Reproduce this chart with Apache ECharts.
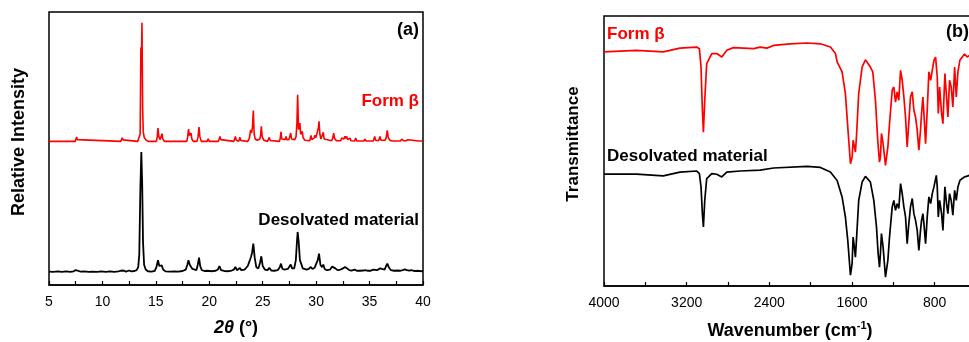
<!DOCTYPE html>
<html>
<head>
<meta charset="utf-8">
<script src="https://cdn.jsdelivr.net/npm/echarts@6/dist/echarts.min.js"></script>
<style>
  html, body { margin: 0; padding: 0; background: #fff; }
  #c { width: 969px; height: 342px; }
</style>
</head>
<body>
<div id="c"></div>
<script>
// ---- (a) powder XRD patterns: [2θ (°), relative intensity] ----
const xrdFormBeta = [
  [5.0,0],[7.45,0],[7.52,1.5],[7.59,3.7],[7.66,1.5],[7.75,0],
  [11.72,0],[11.8,1.3],[11.86,3.1],[11.93,1.3],[12.0,0],
  [13.3,0],[13.45,1.5],[13.53,6],[13.6,79],[13.64,60],[13.7,100],[13.76,30],[13.82,8],[13.92,3],[14.1,1],[14.3,0],
  [15.05,0],[15.13,4],[15.2,11.2],[15.28,4],[15.4,1.5],[15.5,3],[15.58,6.5],[15.65,2],[15.8,0],
  [17.9,0],[17.98,4],[18.06,10.4],[18.14,5],[18.22,5],[18.29,7],[18.37,2],[18.5,0],
  [18.85,0],[18.95,4],[19.04,12],[19.12,4],[19.25,0],
  [19.8,0],[19.9,2.2],[20.0,0],
  [20.85,0],[20.93,1.5],[21.0,4.2],[21.08,1.5],[21.2,0],
  [22.3,0],[22.37,1.5],[22.44,4.2],[22.52,1.2],[22.75,0],[22.8,1.2],[22.87,3.4],[22.95,0.8],
  [23.6,0],[23.75,2.5],[23.87,9.8],[23.95,7],[24.04,12],[24.12,26],[24.2,6],[24.3,2],[24.5,1],
  [24.73,2],[24.8,5],[24.87,12.6],[24.95,4],[25.1,1],[25.45,0],[25.55,1.2],[25.62,3.4],[25.7,0.8],[25.85,0],
  [26.55,0],[26.63,2],[26.71,8.1],[26.79,2],[26.95,0.5],[27.1,1.5],[27.18,4.2],[27.26,1.5],
  [27.45,1.5],[27.55,3],[27.62,7],[27.7,2],[28.0,1.5],[28.12,4],[28.2,15],[28.27,39.3],[28.35,10],
  [28.42,12],[28.48,15.4],[28.55,6],[28.63,6],[28.7,8.4],[28.78,3],[28.95,1],[29.1,0.5],
  [29.4,0.5],[29.47,2],[29.52,5],[29.6,1.5],[29.75,1.5],[29.82,3],[29.89,5.3],[29.96,3],[30.05,5.6],
  [30.14,6],[30.22,12],[30.27,16.9],[30.35,6],[30.45,2],[30.6,3],[30.67,7.6],[30.75,2],[30.9,0.5],
  [31.45,0.5],[31.55,2.5],[31.64,7],[31.73,2.5],[31.9,0.5],
  [32.3,0.5],[32.39,2.8],[32.48,1.5],[32.6,2],[32.7,4.2],[32.78,2.5],[32.86,4.2],[32.95,1.5],
  [33.08,1],[33.17,2.8],[33.26,0.5],[33.6,0.3],[33.7,2.8],[33.8,0.3],
  [34.48,0.3],[34.57,2],[34.66,0.3],
  [35.35,0.3],[35.42,1.5],[35.48,4.2],[35.56,1],[35.85,0.5],[35.92,1.5],[35.98,4.2],[36.06,1],
  [36.45,1],[36.55,3],[36.66,9.3],[36.75,3],[36.9,1],[37.1,0.3],
  [37.9,0.3],[38.0,2],[38.1,0.5],[38.2,0.5],[38.3,2],[38.4,0.5],[38.5,0.5],[38.6,1.4],[38.7,0.3],
  [39.6,0.3],[39.7,1.4],[39.8,0.3],[40.0,0.3]
];

const xrdDesolvated = [
  [5.0,0.3],[5.4,0],[5.8,0.5],[6.2,0],[6.6,0.4],[7.0,0.1],[7.3,0.5],[7.5,1.6],[7.6,2],[7.75,1],
  [7.95,0.2],[8.3,0.4],[8.7,0],[9.1,0.3],[9.5,0],[9.9,0.4],[10.3,0.1],[10.7,0.4],[11.1,0],[11.5,0.5],
  [11.7,1],[11.85,2.5],[12.0,1.2],[12.2,0.3],[12.5,1.2],[12.7,0.5],[13.0,0.8],[13.2,1.5],[13.35,4],
  [13.45,15],[13.55,70],[13.64,101],[13.72,75],[13.8,25],[13.9,6],[14.05,2],[14.25,0.6],[14.6,0.3],
  [14.9,1],[15.05,4],[15.2,9.8],[15.32,5],[15.42,3.5],[15.55,5.6],[15.68,2],[15.9,0.5],[16.3,0.3],
  [16.7,0.5],[17.1,0.3],[17.5,0.8],[17.8,2],[17.95,6],[18.05,9.8],[18.17,6],[18.3,6.5],[18.42,2.5],
  [18.6,1],[18.8,1.5],[18.92,6],[19.04,12],[19.15,5],[19.3,1.5],[19.55,0.8],[19.75,1],[19.9,2],
  [20.05,0.8],[20.3,0.6],[20.6,1],[20.8,2],[20.95,5],[21.1,1.5],[21.4,0.8],[21.8,0.6],[22.1,1.2],
  [22.3,2],[22.44,4.2],[22.58,1.5],[22.75,1.8],[22.87,3.4],[23.0,1.5],[23.3,2],[23.6,5],[23.8,10],
  [23.9,12.6],[24.0,16],[24.12,23.9],[24.25,12],[24.4,4],[24.6,3],[24.75,8],[24.87,13.2],[25.0,5],
  [25.2,2],[25.45,1.5],[25.62,3.4],[25.8,1.2],[26.1,1],[26.4,1.5],[26.6,4],[26.71,7],[26.85,2.5],
  [27.05,2],[27.18,3.4],[27.35,2.5],[27.5,4],[27.62,6.2],[27.75,3],[27.95,3],[28.1,10],[28.2,25],
  [28.27,33.7],[28.37,25],[28.48,10],[28.6,7],[28.75,3],[28.9,2],[29.1,2],[29.3,2.5],[29.5,4.2],
  [29.65,2.5],[29.85,3.5],[30.0,4],[30.15,10],[30.27,15.4],[30.4,6],[30.55,4],[30.67,6.2],[30.8,2.5],
  [31.0,1.5],[31.3,2],[31.5,4.5],[31.64,5.6],[31.8,3],[32.0,1.5],[32.3,2],[32.5,3],[32.7,4.2],
  [32.9,3],[33.1,1.5],[33.3,1.2],[33.6,2],[33.8,1],[34.1,1],[34.4,1.2],[34.6,1.5],[34.8,1],[35.1,1],
  [35.35,2],[35.5,3],[35.7,1.5],[35.85,2.5],[35.98,3],[36.15,1.5],[36.4,2],[36.55,5],[36.66,7],
  [36.8,4],[37.0,1.5],[37.3,1],[37.6,1.2],[37.9,1],[38.1,1.5],[38.3,2.2],[38.5,1.5],[38.7,1.2],
  [38.9,1.5],[39.1,1],[39.3,0.8],[39.6,1],[39.8,0.6],[40.0,0.8]
];

// ---- (b) IR spectra: [wavenumber (cm-1), transmittance (a.u.)] ----
const irFormBeta = [
  [4000,41.7],[3686,42.3],[3427,41.7],[3265,43.1],[3103,43.5],[3077,42.9],[3061,36.1],[3048,20.1],
  [3038,12.0],[3025,23.8],[3006,37.4],[2957,41.1],[2909,41.1],[2860,39.8],[2812,42.3],[2747,43.3],
  [2553,42.9],[2488,43.5],[2424,43.1],[2359,44.1],[2197,44.7],[2035,45.0],[1906,44.7],[1809,43.5],
  [1760,41.1],[1744,38.0],[1696,34.3],[1664,26.3],[1641,13.9],[1615,0.3],[1599,2.8],[1589,9.0],
  [1577,6.5],[1567,4.6],[1557,10.2],[1535,26.3],[1502,36.1],[1470,38.8],[1422,36.1],[1399,34.3],
  [1373,23.8],[1351,9.0],[1334,0.9],[1325,2.8],[1315,11.5],[1299,7.7],[1276,-0.3],[1253,6.5],
  [1237,15.1],[1211,27.5],[1195,28.7],[1179,23.1],[1163,26.9],[1147,23.8],[1130,34.9],[1114,31.2],
  [1098,25.0],[1082,17.6],[1066,6.5],[1053,13.9],[1034,25.0],[1017,26.9],[1001,20.1],[985,17.6],
  [969,12.7],[953,5.3],[937,12.7],[927,18.9],[914,25.0],[904,18.9],[888,7.7],[872,20.1],[856,34.3],
  [839,31.2],[823,34.9],[807,38.6],[791,39.8],[775,32.4],[765,18.9],[752,28.7],[733,18.9],[720,15.1],
  [701,33.7],[685,25.0],[672,17.6],[656,31.2],[640,28.7],[624,21.3],[607,36.1],[591,25.0],[575,34.3],
  [556,38.6],[533,39.8],[511,40.9],[485,39.8],[462,40.4],[400,40.5]
];

const irDesolvated = [
  [4000,41.4],[3686,41.4],[3427,40.8],[3265,42.2],[3103,42.6],[3077,41.6],[3061,36.7],[3048,26.8],
  [3038,21.9],[3025,31.7],[3006,39.8],[2957,41.6],[2909,41.4],[2860,40.4],[2812,42.2],[2683,42.6],
  [2488,42.9],[2359,43.7],[2035,44.3],[1906,43.9],[1809,42.2],[1744,39.1],[1696,33.0],[1664,25.6],
  [1641,16.9],[1615,4.0],[1599,8.3],[1589,18.1],[1577,14.4],[1567,10.7],[1557,16.9],[1535,31.7],
  [1502,38.5],[1470,40.6],[1422,38.5],[1389,31.7],[1363,21.9],[1347,12.0],[1334,7.0],[1325,12.0],
  [1315,19.4],[1299,14.4],[1276,3.3],[1253,9.5],[1237,18.1],[1211,29.3],[1195,31.7],[1179,28.0],
  [1163,30.5],[1147,28.7],[1130,37.9],[1114,34.2],[1098,29.3],[1082,25.6],[1066,15.7],[1053,21.9],
  [1034,29.3],[1017,32.4],[1001,26.8],[985,24.3],[969,20.6],[953,13.2],[937,20.6],[927,24.3],
  [914,26.8],[904,23.1],[888,15.7],[872,25.6],[856,33.0],[839,30.5],[823,34.2],[807,36.7],[784,41.0],
  [775,36.7],[765,25.6],[752,31.7],[733,26.8],[720,20.6],[701,36.7],[685,30.5],[672,26.8],[656,34.2],
  [640,31.7],[624,26.2],[607,35.4],[591,31.7],[575,36.7],[556,39.1],[533,39.8],[511,40.4],[485,40.7],
  [462,41.0],[400,41.2]
];

// vertical stacking offsets for the two traces in each panel
const xrdOffsets = { formBeta: 121, desolvated: 11 };
const irOffsets = { formBeta: 45, desolvated: 0 };

const shift = (arr, dy) => arr.map(p => [p[0], p[1] + dy]);

const FONT = '"Liberation Sans", Arial, Helvetica, sans-serif';
const RED = '#ff0000';

const chart = echarts.init(document.getElementById('c'), null, { renderer: 'canvas', width: 969, height: 342 });

const baseX = {
  type: 'value',
  axisLine: { show: true, onZero: false, lineStyle: { color: '#000', width: 1.5 } },
  axisTick: { show: true, inside: true, length: 4, lineStyle: { color: '#000', width: 1.2 } },
  splitLine: { show: false },
  axisLabel: { color: '#000', fontSize: 14, fontFamily: FONT, margin: 10, showMinLabel: true, showMaxLabel: true }
};
const baseY = {
  type: 'value',
  axisLine: { show: false }, axisTick: { show: false },
  axisLabel: { show: false }, splitLine: { show: false }
};

chart.setOption({
  animation: false,
  backgroundColor: '#fff',
  grid: [
    { left: 49, top: 12, width: 374, height: 273, show: true, borderColor: '#000', borderWidth: 1.5,
      outerBoundsMode: 'none', containLabel: false },
    // the right panel runs past the right edge of the canvas
    { left: 604, top: 16, width: 372, height: 270, show: true, borderColor: '#000', borderWidth: 1.5,
      outerBoundsMode: 'none', containLabel: false }
  ],
  xAxis: [
    Object.assign({}, baseX, {
      gridIndex: 0, min: 5, max: 40, interval: 2.5,
      axisLabel: Object.assign({}, baseX.axisLabel, { formatter: v => (v % 5 === 0 ? String(v) : '') })
    }),
    Object.assign({}, baseX, {
      gridIndex: 1, min: 400, max: 4000, interval: 400, inverse: true,
      axisLabel: Object.assign({}, baseX.axisLabel, { formatter: v => (v % 800 === 0 ? String(v) : '') })
    })
  ],
  yAxis: [
    Object.assign({}, baseY, { gridIndex: 0, min: 0, max: 230 }),
    Object.assign({}, baseY, { gridIndex: 1, min: 0, max: 100 })
  ],
  series: [
    { type: 'line', xAxisIndex: 0, yAxisIndex: 0, data: shift(xrdDesolvated, xrdOffsets.desolvated),
      showSymbol: false, lineStyle: { color: '#000', width: 1.8 }, silent: true },
    { type: 'line', xAxisIndex: 0, yAxisIndex: 0, data: shift(xrdFormBeta, xrdOffsets.formBeta),
      showSymbol: false, lineStyle: { color: RED, width: 1.6 }, silent: true },
    { type: 'line', xAxisIndex: 1, yAxisIndex: 1, data: shift(irFormBeta, irOffsets.formBeta),
      showSymbol: false, lineStyle: { color: RED, width: 1.7 }, silent: true },
    { type: 'line', xAxisIndex: 1, yAxisIndex: 1, data: shift(irDesolvated, irOffsets.desolvated),
      showSymbol: false, lineStyle: { color: '#000', width: 1.7 }, silent: true }
  ],
  graphic: [
    // panel (a) labels
    { type: 'text', x: 419, y: 30, style: { text: '(a)', align: 'right', verticalAlign: 'middle',
      font: 'bold 18px ' + FONT, fill: '#000' } },
    { type: 'text', x: 419, y: 101, style: { text: 'Form β', align: 'right', verticalAlign: 'middle',
      font: 'bold 17px ' + FONT, fill: RED } },
    { type: 'text', x: 419, y: 220, style: { text: 'Desolvated material', align: 'right', verticalAlign: 'middle',
      font: 'bold 17px ' + FONT, fill: '#000' } },
    { type: 'text', x: 19, y: 142, rotation: Math.PI / 2, style: { text: 'Relative Intensity', align: 'center',
      verticalAlign: 'middle', font: 'bold 18px ' + FONT, fill: '#000' } },
    { type: 'text', x: 236, y: 328, style: { text: '{i|2θ} (°)', align: 'center', verticalAlign: 'middle',
      font: 'bold 18px ' + FONT, fill: '#000',
      rich: { i: { fontStyle: 'italic', fontWeight: 'bold', fontSize: 18, fontFamily: FONT, fill: '#000' } } } },
    // panel (b) labels
    { type: 'text', x: 946, y: 32, style: { text: '(b)', align: 'left', verticalAlign: 'middle',
      font: 'bold 18px ' + FONT, fill: '#000' } },
    { type: 'text', x: 607, y: 34, style: { text: 'Form β', align: 'left', verticalAlign: 'middle',
      font: 'bold 17px ' + FONT, fill: RED } },
    { type: 'text', x: 607, y: 156, style: { text: 'Desolvated material', align: 'left', verticalAlign: 'middle',
      font: 'bold 17px ' + FONT, fill: '#000' } },
    { type: 'text', x: 573, y: 144, rotation: Math.PI / 2, style: { text: 'Transmittance', align: 'center',
      verticalAlign: 'middle', font: 'bold 17px ' + FONT, fill: '#000' } },
    { type: 'text', x: 790, y: 331, style: { text: 'Wavenumber (cm{s|-1})', align: 'center', verticalAlign: 'middle',
      font: 'bold 18px ' + FONT, fill: '#000', lineHeight: 22,
      rich: { s: { fontSize: 11, fontWeight: 'bold', fontFamily: FONT, fill: '#000', verticalAlign: 'top', lineHeight: 11 } } } }
  ]
});
</script>
</body>
</html>
